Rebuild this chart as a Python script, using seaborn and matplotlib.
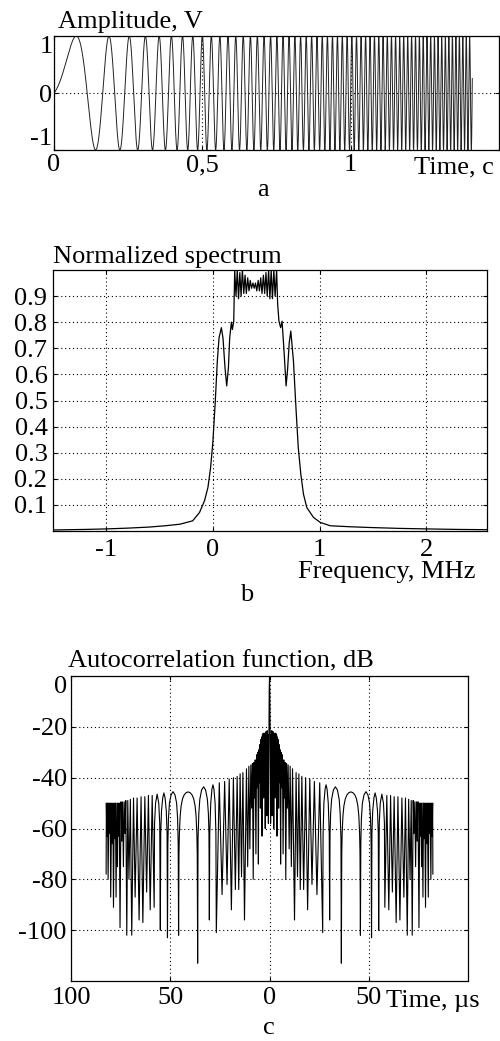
import numpy as np
import pandas as pd
import matplotlib
matplotlib.use("Agg")
import matplotlib.pyplot as plt
import seaborn as sns

# ---------------- data ----------------
# (a) chirp signal: parameters
chirp_duration_s = 1.41
chirp_start_freq_hz = 1.0
chirp_rate_hz_per_s = 62.0
a_xticks = [0, 0.5, 1]
a_xtick_labels = ["0", "0,5", "1"]
a_yticks = [-1, 0, 1]
a_ytick_labels = ["-1", "0", "1"]

# (b) normalized spectrum (MHz, value)
spec_left_f = [-1.5, -1.2, -1.0, -0.8, -0.6, -0.45, -0.31, -0.19, -0.126, -0.079,
               -0.047, -0.022, 0.0, 0.022, 0.041, 0.057, 0.079, 0.094, 0.113, 0.129,
               0.145, 0.157, 0.173, 0.182, 0.195]
spec_left_v = [0.004, 0.006, 0.008, 0.011, 0.015, 0.02, 0.026, 0.039, 0.071, 0.116,
               0.167, 0.243, 0.345, 0.498, 0.651, 0.74, 0.779, 0.74, 0.626, 0.556,
               0.626, 0.74, 0.80, 0.772, 0.804]
ripple_f = [0.204, 0.216, 0.228, 0.240, 0.252, 0.264, 0.276, 0.289, 0.301, 0.313,
            0.326, 0.338, 0.350, 0.362, 0.375, 0.387, 0.399, 0.411, 0.424, 0.436,
            0.448, 0.460, 0.473, 0.485, 0.497, 0.509, 0.522, 0.534, 0.546, 0.558,
            0.571, 0.583, 0.597]
ripple_v = [1.0, 0.90, 1.0, 0.89, 0.99, 0.90, 1.0, 0.91, 0.98, 0.91,
            0.97, 0.92, 0.96, 0.93, 0.95, 0.93, 0.95, 0.92, 0.96, 0.92,
            0.97, 0.91, 0.98, 0.91, 0.99, 0.90, 1.0, 0.89, 1.0, 0.89,
            1.0, 0.90, 1.0]
spec_right_f = [0.607, 0.619, 0.635, 0.648, 0.665, 0.686, 0.70, 0.715, 0.73, 0.755,
                0.78, 0.80, 0.824, 0.849, 0.88, 0.943, 1.006, 1.1, 1.3, 1.5,
                1.75, 2.0, 2.3, 2.57]
spec_right_v = [0.868, 0.804, 0.779, 0.804, 0.70, 0.556, 0.62, 0.72, 0.766, 0.651,
                0.46, 0.32, 0.218, 0.141, 0.09, 0.052, 0.033, 0.02, 0.016, 0.013,
                0.01, 0.008, 0.006, 0.005]
b_xticks = [-1, 0, 1, 2]
b_xtick_labels = ["-1", "0", "1", "2"]
b_yticks = [0.1, 0.2, 0.3, 0.4, 0.5, 0.6, 0.7, 0.8, 0.9]
b_ytick_labels = ["0.1", "0.2", "0.3", "0.4", "0.5", "0.6", "0.7", "0.8", "0.9"]

# (c) autocorrelation function, right half (µs, dB); left half is its mirror
acf_t_right = [
    0.0, 0.15, 0.3, 0.45, 0.55,
    0.75, 0.95, 1.15, 1.35, 1.55, 1.75, 1.95, 2.15, 2.35, 2.55, 2.75, 2.95, 3.15, 3.35,
    3.55, 3.75, 3.95, 4.15, 4.35, 4.6, 4.85, 5.1, 5.35, 5.6, 5.9, 6.2, 6.5, 6.85, 7.2,
    7.5, 7.8, 8.2, 8.6, 9.0, 9.4, 9.9, 10.4, 11.0, 11.6, 12.6, 13.4, 14.1, 14.8, 15.5,
    16.3, 17.2, 18.2, 19.2, 20.3, 21.4, 22.6, 23.9, 25.3, 26.8,
    27.0, 27.4, 28.0, 28.5, 29.0, 29.6, 30.1, 30.3,
    30.5, 30.8, 31.3, 32.2, 33.2, 34.2, 35.1, 35.6, 36.0, 36.2,
    36.4, 36.6, 37.0, 37.5, 38.2, 39.0, 40.0, 41.0, 42.0, 43.0, 43.8, 44.5, 45.0, 45.4,
    45.6, 45.8,
    46.0, 46.3, 46.8, 47.6, 48.6, 49.6, 50.4, 50.9, 51.2, 51.4,
    51.6, 52.0, 52.6, 53.2, 53.8, 54.4, 54.8, 55.0,
    55.3, 55.8, 56.6, 57.4, 57.9, 58.1,
    59.1, 60.1, 61.0, 61.9, 62.8, 63.8, 64.7, 65.7, 66.7, 67.7, 68.5, 69.4, 70.1,
    70.8, 71.4, 71.9, 72.4, 72.8, 73.2, 73.6, 74.0, 74.4, 74.8, 75.3, 75.7, 76.0,
    76.3, 76.6, 76.9, 77.3, 77.6, 77.9, 78.2, 78.6, 78.9, 79.2, 79.5, 80.0, 80.3,
    80.6, 80.9, 81.3, 81.6, 81.9, 82.2, 82.3]
acf_db_right = [
    0.0, -6, -20, -45, -58,
    -23, -42, -21.5, -55, -22, -38, -22, -60, -22.5, -36, -23, -48, -22.5, -40,
    -23, -63, -24, -38, -25, -52, -27, -42, -29, -74, -30, -44, -31, -70, -33,
    -48, -34, -80, -34.5, -52, -35, -68, -35.5, -75, -36.5, -96, -38, -79, -38.5, -84,
    -39.5, -84, -40, -92, -40.5, -82, -41.5, -86, -42, -101,
    -62, -50, -44.5, -42.8, -44.5, -50, -62, -96,
    -62, -54, -48.5, -44.8, -43.6, -44.8, -48.5, -54, -64, -113,
    -70, -62, -55, -51, -48.3, -46.8, -45.9, -45.6, -45.9, -46.8, -48.3, -51, -55, -62,
    -70, -102,
    -66, -56, -50, -46.8, -45.5, -46.8, -50, -56, -66, -103,
    -62, -53, -48, -46, -48, -53, -62, -100,
    -58, -50, -46.5, -50, -58, -91,
    -47, -92, -47, -85, -47.5, -97, -47.5, -96, -48, -87, -48, -102, -48.5,
    -80, -49, -102, -49, -62, -49.5, -75, -49.5, -65, -49.5, -99, -50, -63,
    -50, -75, -50, -87, -50, -64, -50, -91, -50, -66, -50, -87, -50,
    -62, -50, -80, -50, -63, -50, -78]
c_xticks = [-100, -50, 0, 50]
c_xtick_labels = ["100", "50", "0", "50"]
c_yticks = [0, -20, -40, -60, -80, -100]
c_ytick_labels = ["0", "-20", "-40", "-60", "-80", "-100"]

# ---------------- derived tables ----------------
t_a = np.linspace(0, chirp_duration_s, 24000)
phase = 2 * np.pi * (chirp_start_freq_hz * t_a + 0.5 * chirp_rate_hz_per_s * t_a ** 2)
df_a = pd.DataFrame({"t": t_a, "v": np.sin(phase)})

df_b = pd.DataFrame({"f": spec_left_f + ripple_f + spec_right_f,
                     "v": spec_left_v + ripple_v + spec_right_v})

tr = np.array(acf_t_right)
dr = np.array(acf_db_right)
df_c = pd.DataFrame({"t": np.concatenate([-tr[::-1], tr[1:]]),
                     "db": np.concatenate([dr[::-1], dr[1:]])})

# ---------------- style ----------------
sns.set_theme(style="white")
plt.rcParams["font.family"] = ["Liberation Serif", "DejaVu Serif"]
FS = 19
W, H = 500, 1041

fig = plt.figure(figsize=(W / 100, H / 100), dpi=100)


def box(left, top, right, bottom):
    return [left / W, 1 - bottom / H, (right - left) / W, (bottom - top) / H]


def style_axes(ax):
    for s in ax.spines.values():
        s.set_color("black")
        s.set_linewidth(0.9)
        s.set_visible(True)
    ax.grid(True, linestyle=(0, (1, 2.5)), color="black", linewidth=0.8)
    ax.tick_params(direction="in", length=3, width=0.8, top=True, right=True,
                   bottom=True, left=True, labelsize=FS, colors="black")
    ax.set_xlabel("")
    ax.set_ylabel("")


def ftext(x, y, s, **kw):
    fig.text(x / W, 1 - y / H, s, fontsize=FS, color="black", **kw)


# (a)
ax_a = fig.add_axes(box(54, 36, 499, 150))
sns.lineplot(data=df_a, x="t", y="v", ax=ax_a, color="#222222", linewidth=0.7,
             estimator=None, sort=False)
ax_a.set_xlim(0, 1.5)
ax_a.set_ylim(-1, 1)
ax_a.set_xticks(a_xticks)
ax_a.set_xticklabels(a_xtick_labels)
ax_a.set_yticks(a_yticks)
ax_a.set_yticklabels(a_ytick_labels)
style_axes(ax_a)
ax_a.tick_params(axis="x", pad=3)
ax_a.tick_params(axis="y", pad=1)
ylabs = ax_a.get_yticklabels()
ylabs[0].set_va("bottom")
ylabs[2].set_va("top")
ftext(58, 28, "Amplitude, V", ha="left", va="baseline")
ftext(494, 173, "Time, c", ha="right", va="baseline")
ftext(263, 196, "a", ha="center", va="baseline")

# (b)
ax_b = fig.add_axes(box(53, 270, 487, 531))
sns.lineplot(data=df_b, x="f", y="v", ax=ax_b, color="black", linewidth=0.9,
             estimator=None, sort=False)
ax_b.set_xlim(-1.5, 2.57)
ax_b.set_ylim(0, 1.0)
ax_b.set_xticks(b_xticks)
ax_b.set_xticklabels(b_xtick_labels)
ax_b.set_yticks(b_yticks)
ax_b.set_yticklabels(b_ytick_labels)
style_axes(ax_b)
ax_b.tick_params(axis="x", pad=6)
ax_b.tick_params(axis="y", pad=4)
ftext(53, 263, "Normalized spectrum", ha="left", va="baseline")
ftext(476, 578, "Frequency, MHz", ha="right", va="baseline")
ftext(247, 601, "b", ha="center", va="baseline")

# (c)
ax_c = fig.add_axes(box(71, 676, 468, 981))
sns.lineplot(data=df_c, x="t", y="db", ax=ax_c, color="black", linewidth=0.8,
             estimator=None, sort=False)
ax_c.set_xlim(-100, 100)
ax_c.set_ylim(-120, 0)
ax_c.set_xticks(c_xticks)
ax_c.set_xticklabels(c_xtick_labels)
ax_c.set_yticks(c_yticks)
ax_c.set_yticklabels(c_ytick_labels)
style_axes(ax_c)
ax_c.tick_params(axis="x", pad=4)
ax_c.tick_params(axis="y", pad=3)
ax_c.get_yticklabels()[0].set_va("top")
ftext(68, 667, "Autocorrelation function, dB", ha="left", va="baseline")
ftext(386, 1007, "Time, µs", ha="left", va="baseline")
ftext(269, 1034, "c", ha="center", va="baseline")

fig.savefig("out.png", dpi=100, facecolor="white")
